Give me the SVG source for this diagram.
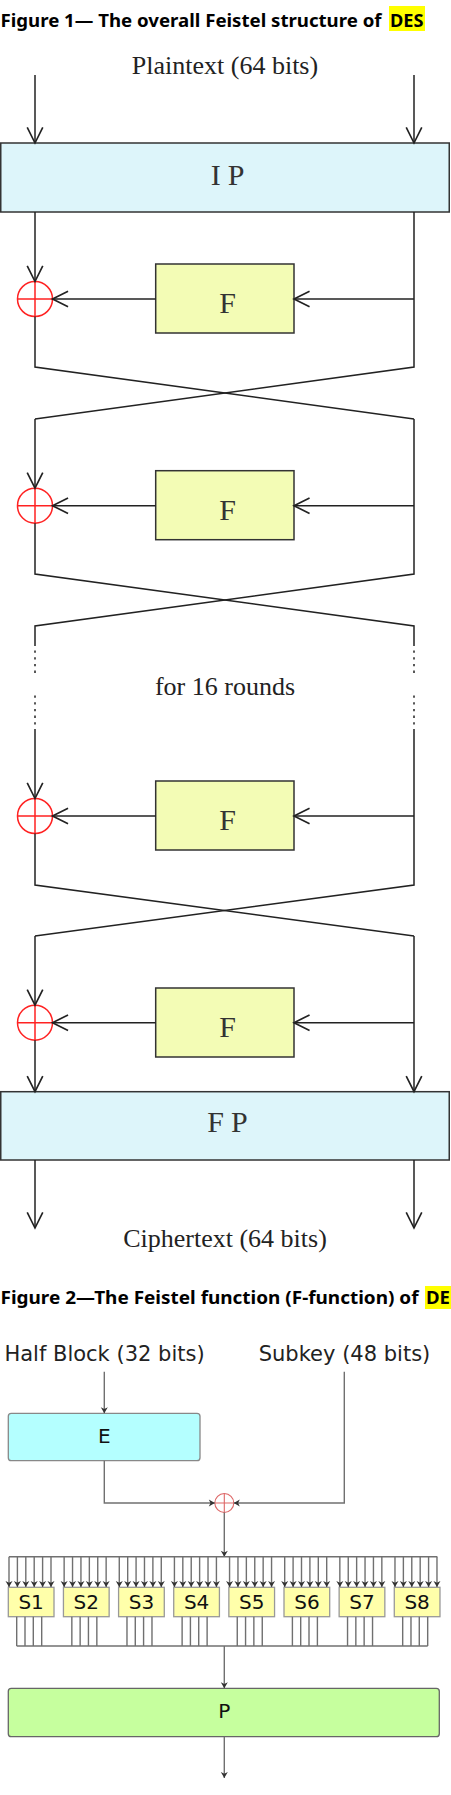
<svg xmlns="http://www.w3.org/2000/svg" width="451" height="1795" viewBox="0 0 451 1795">
<style>
.title{font-family:"Noto Sans","Liberation Sans",sans-serif;font-weight:bold;font-size:18px;fill:#000}
.serif{font-family:"Liberation Serif",serif;font-size:26px;fill:#222;text-anchor:middle}
.mono{font-family:"Liberation Serif",serif;font-size:30px;fill:#333;text-anchor:middle}
.sp{letter-spacing:7px}
.sans{font-family:"DejaVu Sans",sans-serif;font-size:21px;fill:#222;text-anchor:middle}
.lbl{font-family:"DejaVu Sans",sans-serif;font-size:20px;fill:#111;text-anchor:middle}
.perm{fill:#ddf5fa;stroke:#333;stroke-width:1.5}
.fbox{fill:#f3fcb5;stroke:#333;stroke-width:1.5}
.xor{fill:none;stroke:#f22;stroke-width:1.5}
.l1{fill:none;stroke:#222;stroke-width:1.5}
.l2{fill:none;stroke:#707070;stroke-width:1.4}
.dot{stroke-dasharray:2.3 4.4}
.sbox{fill:#ffffaa;stroke:#999;stroke-width:1.3}
.xor2{fill:none;stroke:#d66;stroke-width:1.1}
.hl{fill:#ffff00}
</style>
<defs>
<marker id="a1" markerUnits="userSpaceOnUse" markerWidth="20" markerHeight="20" viewBox="-16 -9 18 18" refX="0" refY="0" orient="auto" overflow="visible">
<path d="M-14,-7 L0,0 L-14,7" fill="none" stroke="#222" stroke-width="1.5"/>
</marker>
<marker id="a2" markerUnits="userSpaceOnUse" markerWidth="10" markerHeight="10" viewBox="-7 -5 8 10" refX="0" refY="0" orient="auto" overflow="visible">
<path d="M0,0 L-6,-3.5 L-4.3,0 L-6,3.5 Z" fill="#333"/>
</marker>
<g id="sin">
<path class="l2" d="M9,1556.7 V1587" marker-end="url(#a2)"/>
<path class="l2" d="M17.4,1556.7 V1587" marker-end="url(#a2)"/>
<path class="l2" d="M25.8,1556.7 V1587" marker-end="url(#a2)"/>
<path class="l2" d="M34.2,1556.7 V1587" marker-end="url(#a2)"/>
<path class="l2" d="M42.6,1556.7 V1587" marker-end="url(#a2)"/>
<path class="l2" d="M51,1556.7 V1587" marker-end="url(#a2)"/>
</g>
<path id="sout" class="l2" d="M16.7,1616.7 V1646 M25,1616.7 V1646 M33.3,1616.7 V1646 M41.7,1616.7 V1646"/>
</defs>
<rect width="451" height="1795" fill="#fff"/>

<g id="title1">
<rect class="hl" x="389" y="6" width="36" height="25"/>
<text class="title" x="0.5" y="26.5" textLength="381" lengthAdjust="spacingAndGlyphs">Figure 1— The overall Feistel structure of</text>
<text class="title" x="390" y="26.5" textLength="33.5" lengthAdjust="spacingAndGlyphs">DES</text>
</g>

<g id="plaintext"><text class="serif" x="225" y="74">Plaintext (64 bits)</text></g>
<g id="IP"><rect class="perm" x="0.75" y="143" width="448.5" height="69"/><text class="mono sp" x="231" y="184.5">IP</text></g>

<g id="F1"><rect class="fbox" x="155.7" y="264" width="138.3" height="69"/><text class="mono" x="227.5" y="313">F</text></g>
<g id="xor1"><circle class="xor" cx="35" cy="299" r="17.5"/><path class="xor" d="M17.5,299 H52.5 M35,281.5 V316.5"/></g>

<g id="F2"><rect class="fbox" x="155.7" y="470.7" width="138.3" height="69"/><text class="mono" x="227.5" y="519.7">F</text></g>
<g id="xor2"><circle class="xor" cx="35" cy="505.7" r="17.5"/><path class="xor" d="M17.5,505.7 H52.5 M35,488.2 V523.2"/></g>

<g id="rounds"><text class="serif" x="225" y="695">for 16 rounds</text></g>

<g id="F3"><rect class="fbox" x="155.7" y="781" width="138.3" height="69"/><text class="mono" x="227.5" y="830">F</text></g>
<g id="xor3"><circle class="xor" cx="35" cy="816" r="17.5"/><path class="xor" d="M17.5,816 H52.5 M35,798.5 V833.5"/></g>

<g id="F4"><rect class="fbox" x="155.7" y="988" width="138.3" height="69"/><text class="mono" x="227.5" y="1037">F</text></g>
<g id="xor4"><circle class="xor" cx="35" cy="1022.7" r="17.5"/><path class="xor" d="M17.5,1022.7 H52.5 M35,1005.2 V1040.2"/></g>

<g id="FP"><rect class="perm" x="0.75" y="1091.7" width="448.5" height="68.3"/><text class="mono sp" x="231" y="1132">FP</text></g>
<g id="ciphertext"><text class="serif" x="225" y="1247">Ciphertext (64 bits)</text></g>

<g id="connectors1">
<path class="l1" d="M35,75 V143" marker-end="url(#a1)"/>
<path class="l1" d="M414,75 V143" marker-end="url(#a1)"/>
<path class="l1" d="M35,212 V281.5" marker-end="url(#a1)"/>
<path class="l1" d="M414,212 V367 L35,419"/>
<path class="l1" d="M414,299 H294" marker-end="url(#a1)"/>
<path class="l1" d="M155.7,299 H52.5" marker-end="url(#a1)"/>
<path class="l1" d="M35,316.5 V367 L414,419"/>
<path class="l1" d="M35,419 V488.2" marker-end="url(#a1)"/>
<path class="l1" d="M414,419 V574 L35,626 V646"/>
<path class="l1" d="M414,505.7 H294" marker-end="url(#a1)"/>
<path class="l1" d="M155.7,505.7 H52.5" marker-end="url(#a1)"/>
<path class="l1" d="M35,523.2 V574 L414,626 V646"/>
<path class="l1 dot" d="M35,650.5 V674 M35,695.5 V726"/>
<path class="l1 dot" d="M414,650.5 V674 M414,695.5 V726"/>
<path class="l1" d="M35,729 V798.5" marker-end="url(#a1)"/>
<path class="l1" d="M414,729 V885 L35,936"/>
<path class="l1" d="M414,816 H294" marker-end="url(#a1)"/>
<path class="l1" d="M155.7,816 H52.5" marker-end="url(#a1)"/>
<path class="l1" d="M35,833.5 V885 L414,936"/>
<path class="l1" d="M35,936 V1005.2" marker-end="url(#a1)"/>
<path class="l1" d="M414,936 V1091.7" marker-end="url(#a1)"/>
<path class="l1" d="M414,1022.7 H294" marker-end="url(#a1)"/>
<path class="l1" d="M155.7,1022.7 H52.5" marker-end="url(#a1)"/>
<path class="l1" d="M35,1040.2 V1091.7" marker-end="url(#a1)"/>
<path class="l1" d="M35,1160 V1228" marker-end="url(#a1)"/>
<path class="l1" d="M414,1160 V1228" marker-end="url(#a1)"/>
</g>

<g id="title2">
<rect class="hl" x="425" y="1286" width="26" height="23"/>
<text class="title" x="0.5" y="1304" textLength="418" lengthAdjust="spacingAndGlyphs">Figure 2—The Feistel function (F-function) of</text>
<text class="title" x="426" y="1304" textLength="24" lengthAdjust="spacingAndGlyphs">DE</text>
</g>

<g id="halfblock"><text class="sans" x="104.5" y="1361">Half Block (32 bits)</text></g>
<g id="subkey"><text class="sans" x="344.5" y="1361">Subkey (48 bits)</text></g>
<g id="E"><rect x="8.3" y="1413.3" width="191.7" height="47.4" rx="3" fill="#b4ffff" stroke="#888" stroke-width="1.3"/><text class="lbl" x="104.3" y="1443">E</text></g>
<g id="xorF"><circle class="xor2" cx="224.3" cy="1503" r="9.5"/><path class="xor2" d="M214.8,1503 H233.8 M224.3,1493.5 V1512.5"/></g>

<g id="sboxes">
<g id="S1"><rect class="sbox" x="8.3" y="1587.3" width="45.7" height="29.4"/><text class="lbl" x="31.1" y="1609">S1</text></g>
<g id="S2"><rect class="sbox" x="63.44" y="1587.3" width="45.7" height="29.4"/><text class="lbl" x="86.3" y="1609">S2</text></g>
<g id="S3"><rect class="sbox" x="118.58" y="1587.3" width="45.7" height="29.4"/><text class="lbl" x="141.4" y="1609">S3</text></g>
<g id="S4"><rect class="sbox" x="173.72" y="1587.3" width="45.7" height="29.4"/><text class="lbl" x="196.6" y="1609">S4</text></g>
<g id="S5"><rect class="sbox" x="228.86" y="1587.3" width="45.7" height="29.4"/><text class="lbl" x="251.7" y="1609">S5</text></g>
<g id="S6"><rect class="sbox" x="284" y="1587.3" width="45.7" height="29.4"/><text class="lbl" x="306.9" y="1609">S6</text></g>
<g id="S7"><rect class="sbox" x="339.14" y="1587.3" width="45.7" height="29.4"/><text class="lbl" x="362" y="1609">S7</text></g>
<g id="S8"><rect class="sbox" x="394.28" y="1587.3" width="45.7" height="29.4"/><text class="lbl" x="417.1" y="1609">S8</text></g>
</g>

<g id="P"><rect x="8.3" y="1688.3" width="431" height="48.4" rx="3" fill="#c6ff9e" stroke="#666" stroke-width="1.3"/><text class="lbl" x="224.3" y="1718">P</text></g>

<g id="connectors2">
<path class="l2" d="M104.3,1371.7 V1413.3" marker-end="url(#a2)"/>
<path class="l2" d="M104.3,1460.7 V1503 H214.8" marker-end="url(#a2)"/>
<path class="l2" d="M344.3,1371.7 V1503 H233.8" marker-end="url(#a2)"/>
<path class="l2" d="M224.3,1512.5 V1556.7" marker-end="url(#a2)"/>
<path class="l2" d="M9,1556.7 H437.3"/>
<use href="#sin"/>
<use href="#sin" x="55.14"/>
<use href="#sin" x="110.28"/>
<use href="#sin" x="165.42"/>
<use href="#sin" x="220.56"/>
<use href="#sin" x="275.7"/>
<use href="#sin" x="330.84"/>
<use href="#sin" x="385.98"/>
<use href="#sout"/>
<use href="#sout" x="55.14"/>
<use href="#sout" x="110.28"/>
<use href="#sout" x="165.42"/>
<use href="#sout" x="220.56"/>
<use href="#sout" x="275.7"/>
<use href="#sout" x="330.84"/>
<use href="#sout" x="385.98"/>
<path class="l2" d="M16.7,1646 H427.7"/>
<path class="l2" d="M224.3,1646 V1688.3" marker-end="url(#a2)"/>
<path class="l2" d="M224.3,1736.7 V1778" marker-end="url(#a2)"/>
</g>
</svg>
